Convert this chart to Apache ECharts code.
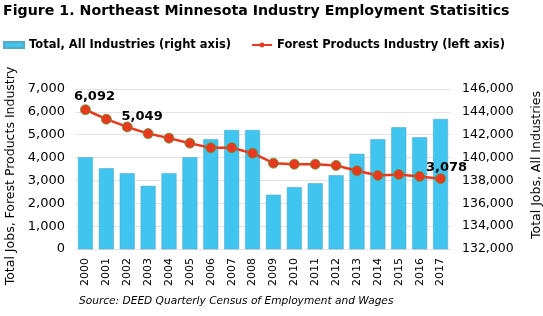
<!DOCTYPE html>
<html>
<head>
<meta charset="utf-8">
<script src="https://cdn.jsdelivr.net/npm/echarts@6/dist/echarts.min.js"></script>
<style>
  html, body { margin: 0; padding: 0; background: #fff; }
  #chart { width: 543px; height: 316px; }
</style>
</head>
<body>
<div id="chart"></div>
<script>
// years on the x axis
var years = ["2000", "2001", "2002", "2003", "2004", "2005", "2006", "2007", "2008",
  "2009", "2010", "2011", "2012", "2013", "2014", "2015", "2016", "2017"];
// Total, All Industries (right axis)
var totalJobs = [140030, 139070, 138640, 137530, 138640, 140030, 141610, 142420, 142420,
  136750, 137410, 137760, 138460, 140330, 141610, 142650, 141780, 143380];
// Forest Products Industry (left axis)
var forestJobs = [6092, 5680, 5340, 5049, 4850, 4630, 4425, 4430, 4190,
  3755, 3710, 3710, 3655, 3420, 3215, 3260, 3175, 3078];
// which points carry a value label, and where it sits
var labelled = { 0: [9, 4], 3: [-6, 0], 17: [6, 6] };

var font = "DejaVu Sans";
var myChart = echarts.init(document.getElementById("chart"));

var lineData = forestJobs.map(function (v, i) {
  if (labelled[i] === undefined) return v;
  return {
    value: v,
    label: {
      show: true,
      position: "top",
      offset: labelled[i],
      formatter: function (p) { return p.value.toLocaleString("en-US"); },
      fontFamily: font,
      fontWeight: "bold",
      fontSize: 13,
      color: "#000"
    }
  };
});

myChart.setOption({
  animation: false,
  title: {
    text: "Figure 1. Northeast Minnesota Industry Employment Statisitics",
    left: 3,
    top: 4,
    padding: 0,
    textStyle: { fontFamily: font, fontSize: 14.2, fontWeight: "bold", color: "#000" }
  },
  legend: {
    left: 3,
    top: 39,
    padding: 0,
    itemGap: 20,
    itemWidth: 20,
    itemHeight: 6,
    textStyle: { fontFamily: font, fontSize: 11.5, fontWeight: "bold", color: "#000" },
    data: [
      { name: "Total, All Industries (right axis)", icon: "rect" },
      { name: "Forest Products Industry (left axis)", itemStyle: { borderWidth: 0 } }
    ]
  },
  grid: { left: 75, right: 92, top: 89, bottom: 67, outerBoundsMode: "none" },
  xAxis: {
    type: "category",
    data: years,
    axisLine: { show: false },
    axisTick: { show: false },
    axisLabel: { rotate: 90, fontFamily: font, fontSize: 11, color: "#000", margin: 9 }
  },
  yAxis: [
    {
      type: "value",
      min: 0,
      max: 7000,
      interval: 1000,
      name: "Total Jobs, Forest Products Industry",
      nameLocation: "middle",
      nameGap: 57,
      nameTextStyle: { fontFamily: font, fontSize: 12.5, color: "#000", padding: [0, 14, 0, 0] },
      axisLabel: {
        fontFamily: font, fontSize: 13, color: "#000", margin: 10,
        formatter: function (v) { return v.toLocaleString("en-US"); }
      },
      splitLine: { lineStyle: { color: "#e3e3e3" } }
    },
    {
      type: "value",
      min: 132000,
      max: 146000,
      interval: 2000,
      name: "Total Jobs, All Industries",
      nameLocation: "middle",
      nameGap: 79,
      nameRotate: 90,
      nameTextStyle: { fontFamily: font, fontSize: 12.5, color: "#000", padding: [0, 0, 0, 8] },
      axisLabel: {
        fontFamily: font, fontSize: 12.5, color: "#000", margin: 11,
        formatter: function (v) { return v.toLocaleString("en-US"); }
      },
      splitLine: { show: false }
    }
  ],
  series: [
    {
      name: "Total, All Industries (right axis)",
      type: "bar",
      yAxisIndex: 1,
      barCategoryGap: "28%",
      itemStyle: { color: "#40c4f0", borderColor: "#5aa9c4", borderWidth: 0.6 },
      data: totalJobs
    },
    {
      name: "Forest Products Industry (left axis)",
      type: "line",
      yAxisIndex: 0,
      symbol: "circle",
      symbolSize: 10,
      lineStyle: { color: "#e8381e", width: 2.5 },
      itemStyle: { color: "#e8381e", borderColor: "#5c9a3a", borderWidth: 0.8 },
      data: lineData
    }
  ],
  graphic: [{
    type: "text",
    left: 79,
    top: 296,
    style: {
      text: "Source: DEED Quarterly Census of Employment and Wages",
      font: "italic 10.6px 'DejaVu Sans'",
      fill: "#000"
    }
  }]
});
</script>
</body>
</html>
